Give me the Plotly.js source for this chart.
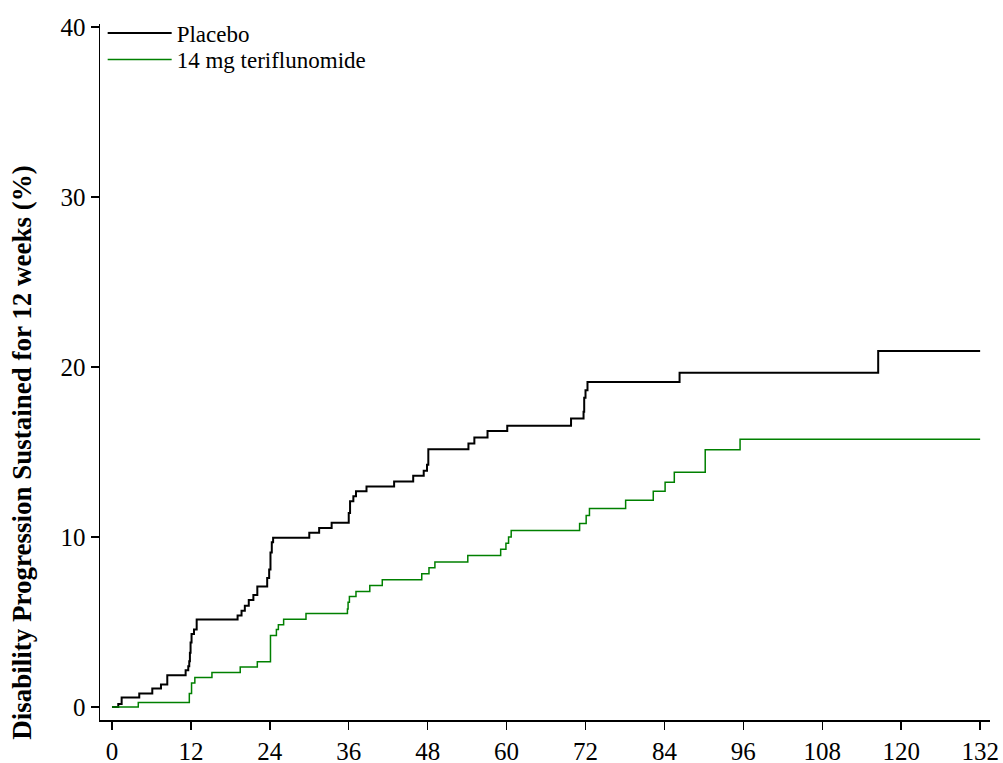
<!DOCTYPE html>
<html>
<head>
<meta charset="utf-8">
<script src="https://cdn.plot.ly/plotly-3.0.1.min.js"></script>
<style>html,body{margin:0;padding:0;background:#fff;}#chart{width:1003px;height:763px;}</style>
</head>
<body>
<div id="chart"></div>
<script>
// Placebo (weeks, % with sustained progression)
const placeboWeeks = [0, 0.96, 1.47, 4.15, 6.13, 7.45, 8.41, 11.2, 11.6, 11.75, 11.85, 11.95, 12.1, 12.47, 12.88, 19.1, 19.7, 20.2, 20.8, 21.5, 22.1, 23.6, 23.9, 24.1, 24.3, 24.5, 30.0, 31.5, 33.4, 36.0, 36.2, 36.7, 37.1, 38.7, 42.9, 45.8, 47.4, 47.9, 48.1, 54.2, 55.1, 57.1, 60.1, 69.8, 71.7, 71.8, 72.0, 72.3, 86.3, 116.5, 132];
const placeboPct   = [0, 0.18, 0.57, 0.80, 1.09, 1.33, 1.87, 2.16, 2.40, 2.70, 3.20, 3.80, 4.30, 4.56, 5.15, 5.38, 5.67, 5.96, 6.30, 6.60, 7.10, 7.60, 8.10, 9.10, 9.70, 9.96, 10.25, 10.54, 10.84, 11.42, 12.10, 12.40, 12.69, 12.98, 13.27, 13.60, 13.90, 14.25, 15.16, 15.50, 15.85, 16.24, 16.55, 16.98, 17.37, 18.20, 18.64, 19.12, 19.67, 20.94, 20.94];

// 14 mg teriflunomide
const terifWeeks = [0, 4.0, 11.76, 12.1, 12.6, 15.2, 19.5, 22.1, 24.1, 25.0, 25.3, 26.1, 29.5, 35.8, 35.9, 36.1, 37.1, 39.2, 41.1, 47.1, 48.2, 49.1, 54.1, 59.1, 59.9, 60.3, 60.7, 71.1, 72.1, 72.6, 78.1, 82.3, 84.1, 85.5, 90.2, 95.5, 132];
const terifPct   = [0, 0.27, 0.80, 1.42, 1.74, 2.03, 2.36, 2.67, 4.21, 4.56, 4.85, 5.16, 5.51, 5.77, 6.16, 6.50, 6.80, 7.15, 7.49, 7.85, 8.20, 8.54, 8.91, 9.28, 9.63, 10.00, 10.39, 10.80, 11.27, 11.68, 12.16, 12.69, 13.23, 13.82, 15.13, 15.75, 15.75];

const xTicks = [0, 12, 24, 36, 48, 60, 72, 84, 96, 108, 120, 132];
const yTicks = [0, 10, 20, 30, 40];
const seriesNames = ['Placebo', '14 mg teriflunomide'];
const yTitle = 'Disability Progression Sustained for 12 weeks (%)';

const serif = 'Liberation Serif, Times New Roman, serif';

const traces = [
  {x: placeboWeeks, y: placeboPct, name: seriesNames[0], mode: 'lines', legend: 'legend',
   line: {shape: 'hv', color: '#000000', width: 2}},
  {x: terifWeeks, y: terifPct, name: seriesNames[1], mode: 'lines', legend: 'legend2',
   line: {shape: 'hv', color: '#008000', width: 1.5}}
];

const legendBase = {x: 0.003, xanchor: 'left', yanchor: 'middle', bgcolor: 'rgba(0,0,0,0)',
                    font: {family: serif, size: 23, color: '#000'}, itemwidth: 64};

const axisBase = {showgrid: false, zeroline: false, showline: true, linecolor: '#000', linewidth: 1.5,
                  ticks: 'outside', ticklen: 8, tickwidth: 1.5, tickcolor: '#000',
                  tickfont: {family: serif, size: 25, color: '#000'}};

const layout = {
  width: 1003, height: 763,
  margin: {l: 100, r: 13, t: 20, b: 43},
  paper_bgcolor: '#fff', plot_bgcolor: '#fff',
  font: {family: serif, color: '#000', size: 24},
  showlegend: true,
  legend: Object.assign({}, legendBase, {y: 0.987}),
  legend2: Object.assign({}, legendBase, {y: 0.949}),
  xaxis: Object.assign({}, axisBase, {range: [-1.82, 133.5], tickvals: xTicks, ticktext: xTicks.map(String)}),
  yaxis: Object.assign({}, axisBase, {range: [-0.76, 40.18], tickvals: yTicks, ticktext: yTicks.map(String)}),
  annotations: [{text: '<b>' + yTitle + '</b>', xref: 'paper', yref: 'paper', x: -0.0876, y: 0.384,
                 xanchor: 'center', yanchor: 'middle', textangle: -90, showarrow: false,
                 font: {family: serif, size: 27, color: '#000'}}]
};

Plotly.newPlot('chart', traces, layout, {displayModeBar: false, staticPlot: true});
</script>
</body>
</html>
